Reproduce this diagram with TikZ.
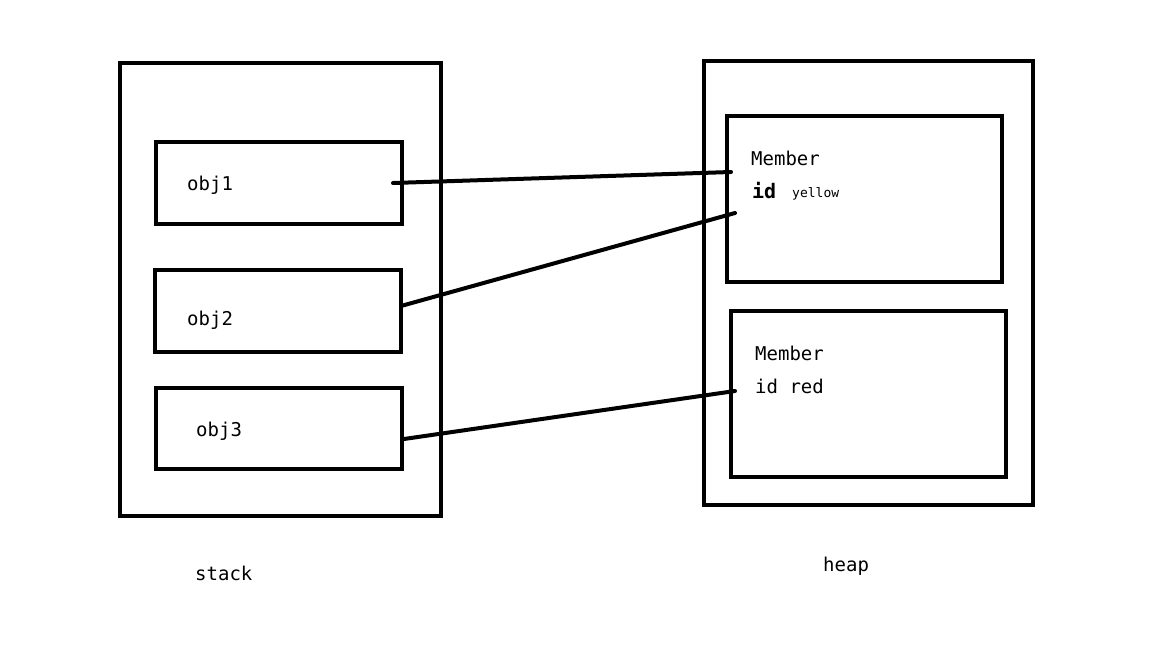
\documentclass[tikz,border=0pt]{standalone}
\usepackage{fontspec}
\setmonofont{DejaVu Sans Mono}
\begin{document}
\begin{tikzpicture}[x=1pt,y=-1pt,
  frame/.style={draw, line width=4pt, rectangle, inner sep=0pt, outer sep=0pt},
  link/.style={line width=4pt, line cap=round},
  lbl/.style={inner sep=0pt, anchor=base west, font=\ttfamily\fontsize{19}{22}\selectfont},
  small/.style={inner sep=0pt, anchor=base west, font=\ttfamily\fontsize{13}{15}\selectfont},
  big/.style={inner sep=0pt, anchor=base west, font=\ttfamily\bfseries\fontsize{20}{24}\selectfont}]
  \useasboundingbox[fill=white] (0,0) rectangle (1152,648);

  % stack side
  \node[frame, minimum width=321pt, minimum height=453pt] (stack) at (280.5,289.5) {};
  \node[frame, minimum width=246pt, minimum height=82pt] (o1) at (279,183) {};
  \node[frame, minimum width=246pt, minimum height=82pt] (o2) at (278,311) {};
  \node[frame, minimum width=246pt, minimum height=81pt] (o3) at (279,428.5) {};
  \node[lbl] (t1) at (187,190) {obj1};
  \node[lbl] (t2) at (187,325) {obj2};
  \node[lbl] (t3) at (196,436) {obj3};
  \node[lbl] (ts) at (195,580) {stack};

  % heap side
  \node[frame, minimum width=329pt, minimum height=444pt] (heap) at (868.5,283) {};
  \node[frame, minimum width=275pt, minimum height=166pt] (m1) at (864.5,199) {};
  \node[frame, minimum width=275pt, minimum height=166pt] (m2) at (868.5,394) {};
  \node[lbl] (m1a) at (751,165) {Member};
  \node[big] (m1b) at (752,198) {id};
  \node[small] (m1c) at (792,197) {yellow};
  \node[lbl] (m2a) at (755,360) {Member};
  \node[lbl] (m2b) at (755,393) {id red};
  \node[lbl] (th) at (823,571) {heap};

  % references
  \coordinate (s1) at (393,183);
  \coordinate (e1) at (731,172);
  \coordinate (e2) at (735,213);
  \coordinate (e3) at (735,391);
  \draw[link] (s1) -- (e1);
  \draw[link] (o2.east) ++(0,-5) -- (e2);
  \draw[link] (o3.east) ++(2,10.5) -- (e3);
\end{tikzpicture}
\end{document}
